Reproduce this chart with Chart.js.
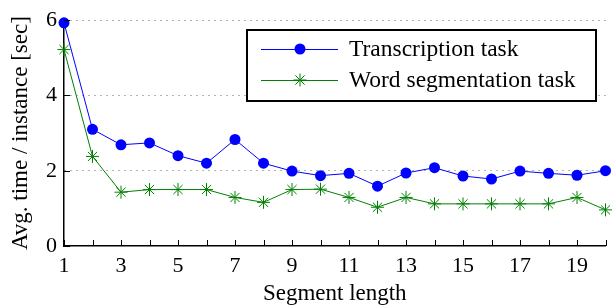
<!DOCTYPE html>
<html>
<head>
<meta charset="utf-8">
<script src="https://cdn.jsdelivr.net/npm/chart.js@4/dist/chart.umd.min.js"></script>
<style>
  html, body { margin: 0; padding: 0; background: #fff; }
  #wrap { width: 613px; height: 308px; }
</style>
</head>
<body>
<div id="wrap"><canvas id="timeChart" width="613" height="308"></canvas></div>
<script>
const segmentLengths = [1, 2, 3, 4, 5, 6, 7, 8, 9, 10, 11, 12, 13, 14, 15, 16, 17, 18, 19, 20];
const transcriptionTimes = [5.93, 3.10, 2.69, 2.74, 2.40, 2.20, 2.83, 2.20, 1.99, 1.87, 1.93, 1.59, 1.94, 2.08, 1.86, 1.78, 1.99, 1.93, 1.88, 2.00];
const wordSegTimes = [5.22, 2.38, 1.43, 1.50, 1.50, 1.50, 1.29, 1.16, 1.50, 1.51, 1.29, 1.03, 1.29, 1.12, 1.12, 1.12, 1.12, 1.12, 1.29, 0.96];
const seriesLabels = ['Transcription task', 'Word segmentation task'];
const yTicks = [0, 2, 4, 6];

const serif = "'Liberation Serif', 'Times New Roman', serif";

function toPoints(values) {
    return segmentLengths.map((x, i) => ({ x: x, y: values[i] }));
}

// inward tick marks, matlab style
const innerTicks = {
    id: 'innerTicks',
    afterDraw(chart) {
        const { ctx, chartArea, scales } = chart;
        ctx.save();
        ctx.strokeStyle = '#000';
        ctx.lineWidth = 1;
        ctx.beginPath();
        segmentLengths.forEach(v => {
            const px = Math.round(scales.x.getPixelForValue(v)) + 0.5;
            ctx.moveTo(px, chartArea.bottom);
            ctx.lineTo(px, chartArea.bottom - 6);
        });
        yTicks.forEach(v => {
            const py = Math.round(scales.y.getPixelForValue(v)) + 0.5;
            ctx.moveTo(chartArea.left, py);
            ctx.lineTo(chartArea.left + 6, py);
        });
        ctx.stroke();
        ctx.restore();
    }
};

function drawMarker(ctx, style, x, y, r, color) {
    ctx.save();
    ctx.strokeStyle = color;
    ctx.fillStyle = color;
    ctx.lineWidth = 1;
    if (style === 'circle') {
        ctx.beginPath();
        ctx.arc(x, y, r, 0, Math.PI * 2);
        ctx.fill();
    } else {
        ctx.beginPath();
        const d = r * Math.SQRT1_2;
        ctx.moveTo(x - r, y); ctx.lineTo(x + r, y);
        ctx.moveTo(x, y - r); ctx.lineTo(x, y + r);
        ctx.moveTo(x - d, y - d); ctx.lineTo(x + d, y + d);
        ctx.moveTo(x - d, y + d); ctx.lineTo(x + d, y - d);
        ctx.stroke();
    }
    ctx.restore();
}

// boxed legend inside the plot
const boxLegend = {
    id: 'boxLegend',
    afterDatasetsDraw(chart) {
        const ctx = chart.ctx;
        const box = { left: 247, top: 30, right: 596, bottom: 101 };
        ctx.save();
        ctx.fillStyle = '#fff';
        ctx.fillRect(box.left, box.top, box.right - box.left, box.bottom - box.top);
        ctx.strokeStyle = '#000';
        ctx.lineWidth = 2;
        ctx.strokeRect(box.left, box.top, box.right - box.left, box.bottom - box.top);
        const rows = [49, 80];
        chart.data.datasets.forEach((ds, i) => {
            const y = rows[i];
            ctx.strokeStyle = ds.borderColor;
            ctx.lineWidth = 1;
            ctx.beginPath();
            ctx.moveTo(261, y + 0.5);
            ctx.lineTo(338, y + 0.5);
            ctx.stroke();
            drawMarker(ctx, ds.pointStyle, 300, y, ds.pointStyle === 'circle' ? 5.5 : 6.5, ds.borderColor);
            ctx.fillStyle = '#000';
            ctx.font = '23.5px ' + serif;
            ctx.textBaseline = 'middle';
            ctx.textAlign = 'left';
            ctx.fillText(ds.label, 349, y + 1);
        });
        ctx.restore();
    }
};

new Chart(document.getElementById('timeChart'), {
    type: 'line',
    data: {
        datasets: [{
            label: seriesLabels[0],
            data: toPoints(transcriptionTimes),
            borderColor: '#0000ff',
            backgroundColor: '#0000ff',
            borderWidth: 1,
            pointStyle: 'circle',
            pointRadius: 5.5,
            pointBorderWidth: 0,
            tension: 0,
            clip: false
        }, {
            label: seriesLabels[1],
            data: toPoints(wordSegTimes),
            borderColor: '#008000',
            backgroundColor: '#008000',
            borderWidth: 1,
            pointStyle: 'star',
            pointRadius: 6.5,
            pointBorderWidth: 1,
            tension: 0,
            clip: false
        }]
    },
    options: {
        responsive: false,
        animation: false,
        layout: { padding: { left: 0, top: 17, right: 5, bottom: 0 } },
        plugins: {
            legend: { display: false },
            tooltip: { enabled: false }
        },
        scales: {
            x: {
                type: 'linear',
                min: 1,
                max: 20,
                afterFit: s => { s.height = 62; },
                grid: { display: false, drawTicks: false },
                border: { display: true, color: '#000', width: 1.5 },
                ticks: {
                    stepSize: 1,
                    autoSkip: false,
                    maxRotation: 0,
                    padding: 7,
                    color: '#000',
                    font: { family: serif, size: 22 },
                    callback: v => (v % 2 === 1 ? String(v) : '')
                },
                title: {
                    display: true,
                    text: 'Segment length',
                    color: '#000',
                    font: { family: serif, size: 23 },
                    padding: { top: 0, bottom: 0 }
                }
            },
            y: {
                min: 0,
                max: 6,
                afterFit: s => { s.width = 64; },
                grid: {
                    drawTicks: false,
                    color: ctx => (ctx.tick && ctx.tick.value === 0 ? 'rgba(0,0,0,0)' : '#666'),
                    lineWidth: 1
                },
                border: { display: true, color: '#000', width: 1.5, dash: [1, 5] },
                ticks: {
                    stepSize: 2,
                    padding: 7,
                    color: '#000',
                    font: { family: serif, size: 22 }
                },
                title: {
                    display: true,
                    text: 'Avg. time / instance [sec]',
                    color: '#000',
                    font: { family: serif, size: 23 },
                    padding: { top: 7, bottom: 0 }
                }
            }
        }
    },
    plugins: [innerTicks, boxLegend]
});
</script>
</body>
</html>
